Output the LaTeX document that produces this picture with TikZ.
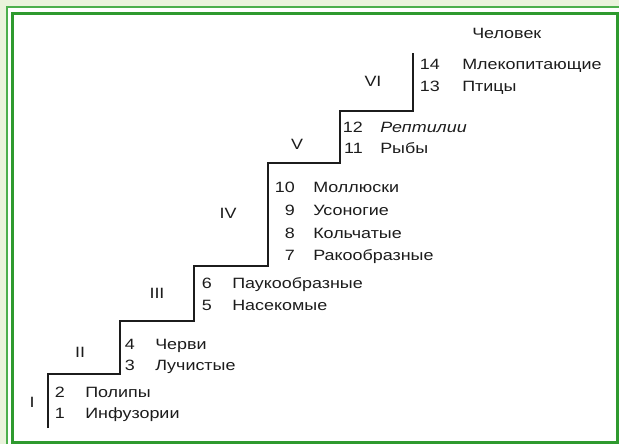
\documentclass[tikz,border=0pt]{standalone}
\usepackage{fontspec}
\setmainfont{Liberation Sans}[FakeStretch=1.2]
\usepackage{xcolor}
\usepackage{tikz}
\definecolor{bgout}{HTML}{EAF3DC}
\definecolor{frameout}{HTML}{4CAF4C}
\definecolor{framein}{HTML}{2E9A2E}
\definecolor{ink}{HTML}{1C1C1C}
\tikzset{
  stair/.style={ink,line width=1.1pt,line join=miter},
  num/.style={anchor=base east,inner sep=0pt,text=ink,font=\fontsize{11.2}{13}\selectfont},
  taxon/.style={anchor=base west,inner sep=0pt,text=ink,font=\fontsize{11.2}{13}\selectfont},
  lvl/.style={anchor=center,inner sep=0pt,text=ink,font=\fontsize{11.2}{13}\selectfont}
}

\begin{document}
\begin{tikzpicture}[x=0.75pt,y=-0.75pt]
\useasboundingbox (0,0) rectangle (619,444);
\fill[bgout] (0,0) rectangle (619,444); \fill[white] (6,6) rectangle (619,444);
\draw[frameout,line width=1.5pt] (6.5,444) -- (6.5,6.5) -- (619,6.5);
\draw[framein,line width=1.7pt] (12.5,13.5) rectangle (617.5,442.5);
% staircase
\draw[stair] (48,428) -- (48,374) -- (120,374) -- (120,321) -- (194,321) -- (194,266) -- (268,266)
  -- (268,163) -- (340,163) -- (340,111) -- (413,111) -- (413,53);
% levels
\node[lvl] (l1) at (32,402) {I};   \node[lvl] (l2) at (80,352) {II};
\node[lvl] (l3) at (157,293) {III}; \node[lvl] (l4) at (228,213) {IV};
\node[lvl] (l5) at (297,144) {V};  \node[lvl] (l6) at (373,81) {VI};
% step I
\node[num] (n2) at (65,397) {2};  \node[taxon] (t2) at (85,397) {Полипы};
\node[num] (n1) at (65,418) {1};  \node[taxon] (t1) at (85,418) {Инфузории};
% step II
\node[num] (n4) at (135,349) {4}; \node[taxon] (t4) at (155,349) {Черви};
\node[num] (n3) at (135,370) {3}; \node[taxon] (t3) at (155,370) {Лучистые};
% step III
\node[num] (n6) at (212,288) {6}; \node[taxon] (t6) at (232,288) {Паукообразные};
\node[num] (n5) at (212,310) {5}; \node[taxon] (t5) at (232,310) {Насекомые};
% step IV
\node[num] (n10) at (295,192) {10}; \node[taxon] (t10) at (313,192) {Моллюски};
\node[num] (n9) at (295,215) {9};   \node[taxon] (t9) at (313,215) {Усоногие};
\node[num] (n8) at (295,238) {8};   \node[taxon] (t8) at (313,238) {Кольчатые};
\node[num] (n7) at (295,260) {7};   \node[taxon] (t7) at (313,260) {Ракообразные};
% step V
\node[num] (n12) at (363,132) {12}; \node[taxon] (t12) at (380,132) {\itshape Рептилии};
\node[num] (n11) at (363,153) {11}; \node[taxon] (t11) at (380,153) {Рыбы};
% step VI
\node[num] (n14) at (440,69) {14}; \node[taxon] (t14) at (462,69) {Млекопитающие};
\node[num] (n13) at (440,91) {13}; \node[taxon] (t13) at (462,91) {Птицы};
\node[taxon] (top) at (472,38) {Человек};
\end{tikzpicture}
\end{document}
